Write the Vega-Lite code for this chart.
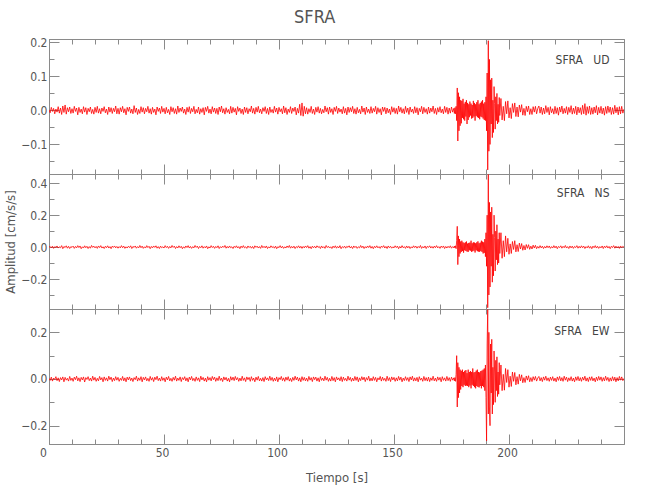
{
"$schema": "https://vega.github.io/schema/vega-lite/v6.json",
"background": "white",
"padding": {"left": 4, "right": 27, "top": 8, "bottom": 20},
"title": {"text": "SFRA", "fontSize": 18, "font": "Liberation Sans Narrow, DejaVu Sans Condensed, sans-serif", "fontWeight": "normal", "color": "#555555", "anchor": "middle", "offset": 9},
"spacing": 0,
"bounds": "flush",
"config": {
  "view": {"stroke": "#8a8a8a", "strokeWidth": 1},
  "axis": {"domainColor": "#8a8a8a", "tickColor": "#8a8a8a", "labelColor": "#555555", "titleColor": "#555555", "labelFont": "Liberation Sans Narrow, DejaVu Sans Condensed, sans-serif", "titleFont": "Liberation Sans Narrow, DejaVu Sans Condensed, sans-serif", "labelFontSize": 12, "titleFontSize": 13, "titleFontWeight": "normal", "grid": false, "domainWidth": 1, "tickWidth": 1, "labelOverlap": false, "labelFlush": false, "labelBound": false}
},
"datasets": {"s": [
{"t":0,"u":0.002,"n":-0.001,"e":0.003},{"t":0.5,"u":-0.007,"n":0.004,"e":-0.006},{"t":1,"u":0.009,"n":-0.005,"e":0.008},{"t":1.5,"u":-0.003,"n":0.006,"e":-0.009},{"t":2,"u":0.006,"n":-0.008,"e":0.004},{"t":2.5,"u":-0.010,"n":0.003,"e":-0.002},{"t":3,"u":0.004,"n":-0.002,"e":0.010},{"t":3.5,"u":-0.005,"n":0.007,"e":-0.007},{"t":4,"u":0.011,"n":-0.006,"e":0.005},{"t":4.5,"u":-0.008,"n":0.002,"e":-0.011},
{"t":5,"u":0.007,"n":-0.004,"e":0.006},{"t":5.5,"u":-0.012,"n":0.009,"e":-0.004},{"t":6,"u":0.013,"n":-0.010,"e":0.009},{"t":6.5,"u":-0.006,"n":0.004,"e":-0.012},{"t":7,"u":0.016,"n":-0.003,"e":0.007},{"t":7.5,"u":-0.011,"n":0.008,"e":-0.005},{"t":8,"u":0.008,"n":-0.007,"e":0.003},{"t":8.5,"u":-0.004,"n":0.005,"e":-0.009},{"t":9,"u":0.010,"n":-0.009,"e":0.011},{"t":9.5,"u":-0.009,"n":0.003,"e":-0.006},
{"t":10,"u":0.005,"n":-0.002,"e":0.004},{"t":10.5,"u":-0.008,"n":0.006,"e":-0.010},{"t":11,"u":0.012,"n":-0.008,"e":0.008},{"t":11.5,"u":-0.003,"n":0.004,"e":-0.003},{"t":12,"u":0.007,"n":-0.005,"e":0.012},{"t":12.5,"u":-0.013,"n":0.009,"e":-0.008},{"t":13,"u":0.009,"n":-0.003,"e":0.005},{"t":13.5,"u":-0.006,"n":0.007,"e":-0.011},{"t":14,"u":0.004,"n":-0.010,"e":0.007},{"t":14.5,"u":-0.010,"n":0.002,"e":-0.004},
{"t":15,"u":0.011,"n":-0.006,"e":0.009},{"t":15.5,"u":-0.005,"n":0.008,"e":-0.013},{"t":16,"u":0.008,"n":-0.004,"e":0.006},{"t":16.5,"u":-0.012,"n":0.005,"e":-0.002},{"t":17,"u":0.006,"n":-0.009,"e":0.010},{"t":17.5,"u":-0.004,"n":0.003,"e":-0.007},{"t":18,"u":0.010,"n":-0.007,"e":0.004},{"t":18.5,"u":-0.009,"n":0.010,"e":-0.009},{"t":19,"u":0.003,"n":-0.002,"e":0.012},{"t":19.5,"u":-0.011,"n":0.006,"e":-0.005},
{"t":20,"u":0.009,"n":-0.005,"e":0.007},{"t":20.5,"u":-0.006,"n":0.004,"e":-0.010},{"t":21,"u":0.012,"n":-0.008,"e":0.003},{"t":21.5,"u":-0.008,"n":0.007,"e":-0.008},{"t":22,"u":0.005,"n":-0.003,"e":0.011},{"t":22.5,"u":-0.010,"n":0.009,"e":-0.004},{"t":23,"u":0.007,"n":-0.006,"e":0.006},{"t":23.5,"u":-0.003,"n":0.002,"e":-0.012},{"t":24,"u":0.011,"n":-0.009,"e":0.009},{"t":24.5,"u":-0.007,"n":0.005,"e":-0.006},
{"t":25,"u":0.004,"n":-0.004,"e":0.005},{"t":25.5,"u":-0.012,"n":0.008,"e":-0.009},{"t":26,"u":0.010,"n":-0.006,"e":0.012},{"t":26.5,"u":-0.005,"n":0.003,"e":-0.003},{"t":27,"u":0.008,"n":-0.010,"e":0.008},{"t":27.5,"u":-0.009,"n":0.006,"e":-0.011},{"t":28,"u":0.006,"n":-0.002,"e":0.004},{"t":28.5,"u":-0.004,"n":0.007,"e":-0.007},{"t":29,"u":0.013,"n":-0.005,"e":0.010},{"t":29.5,"u":-0.010,"n":0.004,"e":-0.005},
{"t":30,"u":0.006,"n":-0.007,"e":0.007},{"t":30.5,"u":-0.011,"n":0.003,"e":-0.010},{"t":31,"u":0.008,"n":-0.005,"e":0.003},{"t":31.5,"u":-0.004,"n":0.009,"e":-0.006},{"t":32,"u":0.012,"n":-0.004,"e":0.011},{"t":32.5,"u":-0.007,"n":0.006,"e":-0.008},{"t":33,"u":0.005,"n":-0.008,"e":0.005},{"t":33.5,"u":-0.013,"n":0.002,"e":-0.012},{"t":34,"u":0.009,"n":-0.006,"e":0.008},{"t":34.5,"u":-0.003,"n":0.005,"e":-0.004},
{"t":35,"u":0.010,"n":-0.003,"e":0.009},{"t":35.5,"u":-0.008,"n":0.008,"e":-0.007},{"t":36,"u":0.004,"n":-0.009,"e":0.004},{"t":36.5,"u":-0.010,"n":0.004,"e":-0.011},{"t":37,"u":0.014,"n":-0.002,"e":0.006},{"t":37.5,"u":-0.006,"n":0.007,"e":-0.003},{"t":38,"u":0.007,"n":-0.007,"e":0.012},{"t":38.5,"u":-0.012,"n":0.003,"e":-0.009},{"t":39,"u":0.003,"n":-0.005,"e":0.005},{"t":39.5,"u":-0.009,"n":0.010,"e":-0.006},
{"t":40,"u":0.011,"n":-0.004,"e":0.010},{"t":40.5,"u":-0.005,"n":0.006,"e":-0.012},{"t":41,"u":0.008,"n":-0.008,"e":0.007},{"t":41.5,"u":-0.010,"n":0.002,"e":-0.004},{"t":42,"u":0.006,"n":-0.006,"e":0.009},{"t":42.5,"u":-0.004,"n":0.009,"e":-0.008},{"t":43,"u":0.012,"n":-0.003,"e":0.003},{"t":43.5,"u":-0.008,"n":0.005,"e":-0.010},{"t":44,"u":0.005,"n":-0.010,"e":0.011},{"t":44.5,"u":-0.011,"n":0.004,"e":-0.005},
{"t":45,"u":0.009,"n":-0.005,"e":0.006},{"t":45.5,"u":-0.006,"n":0.007,"e":-0.011},{"t":46,"u":0.004,"n":-0.002,"e":0.008},{"t":46.5,"u":-0.013,"n":0.008,"e":-0.003},{"t":47,"u":0.010,"n":-0.007,"e":0.012},{"t":47.5,"u":-0.003,"n":0.003,"e":-0.007},{"t":48,"u":0.007,"n":-0.009,"e":0.004},{"t":48.5,"u":-0.009,"n":0.006,"e":-0.009},{"t":49,"u":0.012,"n":-0.004,"e":0.010},{"t":49.5,"u":-0.005,"n":0.002,"e":-0.006},
{"t":50,"u":0.006,"n":-0.006,"e":0.005},{"t":50.5,"u":-0.010,"n":0.009,"e":-0.012},{"t":51,"u":0.009,"n":-0.003,"e":0.008},{"t":51.5,"u":-0.007,"n":0.005,"e":-0.004},{"t":52,"u":0.003,"n":-0.008,"e":0.011},{"t":52.5,"u":-0.012,"n":0.004,"e":-0.008},{"t":53,"u":0.011,"n":-0.005,"e":0.003},{"t":53.5,"u":-0.004,"n":0.010,"e":-0.010},{"t":54,"u":0.008,"n":-0.002,"e":0.007},{"t":54.5,"u":-0.009,"n":0.006,"e":-0.005},
{"t":55,"u":0.005,"n":-0.009,"e":0.012},{"t":55.5,"u":-0.011,"n":0.003,"e":-0.009},{"t":56,"u":0.013,"n":-0.006,"e":0.004},{"t":56.5,"u":-0.006,"n":0.008,"e":-0.006},{"t":57,"u":0.007,"n":-0.004,"e":0.009},{"t":57.5,"u":-0.003,"n":0.005,"e":-0.011},{"t":58,"u":0.010,"n":-0.010,"e":0.006},{"t":58.5,"u":-0.008,"n":0.002,"e":-0.003},{"t":59,"u":0.004,"n":-0.007,"e":0.010},{"t":59.5,"u":-0.012,"n":0.007,"e":-0.008},
{"t":60,"u":0.009,"n":-0.003,"e":0.005},{"t":60.5,"u":-0.005,"n":0.009,"e":-0.012},{"t":61,"u":0.011,"n":-0.006,"e":0.008},{"t":61.5,"u":-0.009,"n":0.004,"e":-0.004},{"t":62,"u":0.006,"n":-0.008,"e":0.011},{"t":62.5,"u":-0.004,"n":0.003,"e":-0.007},{"t":63,"u":0.012,"n":-0.005,"e":0.003},{"t":63.5,"u":-0.010,"n":0.010,"e":-0.010},{"t":64,"u":0.003,"n":-0.002,"e":0.009},{"t":64.5,"u":-0.007,"n":0.006,"e":-0.006},
{"t":65,"u":0.010,"n":-0.009,"e":0.005},{"t":65.5,"u":-0.011,"n":0.004,"e":-0.011},{"t":66,"u":0.005,"n":-0.004,"e":0.012},{"t":66.5,"u":-0.006,"n":0.008,"e":-0.004},{"t":67,"u":0.008,"n":-0.007,"e":0.007},{"t":67.5,"u":-0.013,"n":0.003,"e":-0.009},{"t":68,"u":0.009,"n":-0.005,"e":0.004},{"t":68.5,"u":-0.003,"n":0.007,"e":-0.012},{"t":69,"u":0.012,"n":-0.010,"e":0.010},{"t":69.5,"u":-0.008,"n":0.002,"e":-0.005},
{"t":70,"u":0.004,"n":-0.006,"e":0.006},{"t":70.5,"u":-0.010,"n":0.009,"e":-0.008},{"t":71,"u":0.011,"n":-0.003,"e":0.011},{"t":71.5,"u":-0.005,"n":0.005,"e":-0.003},{"t":72,"u":0.007,"n":-0.008,"e":0.008},{"t":72.5,"u":-0.009,"n":0.004,"e":-0.010},{"t":73,"u":0.006,"n":-0.004,"e":0.005},{"t":73.5,"u":-0.012,"n":0.008,"e":-0.007},{"t":74,"u":0.010,"n":-0.009,"e":0.012},{"t":74.5,"u":-0.004,"n":0.003,"e":-0.006},
{"t":75,"u":0.013,"n":-0.005,"e":0.004},{"t":75.5,"u":-0.007,"n":0.006,"e":-0.011},{"t":76,"u":0.005,"n":-0.002,"e":0.009},{"t":76.5,"u":-0.011,"n":0.010,"e":-0.004},{"t":77,"u":0.008,"n":-0.007,"e":0.007},{"t":77.5,"u":-0.006,"n":0.004,"e":-0.009},{"t":78,"u":0.003,"n":-0.006,"e":0.003},{"t":78.5,"u":-0.010,"n":0.007,"e":-0.012},{"t":79,"u":0.012,"n":-0.004,"e":0.010},{"t":79.5,"u":-0.008,"n":0.002,"e":-0.005},
{"t":80,"u":0.009,"n":-0.009,"e":0.008},{"t":80.5,"u":-0.005,"n":0.005,"e":-0.007},{"t":81,"u":0.006,"n":-0.003,"e":0.011},{"t":81.5,"u":-0.013,"n":0.008,"e":-0.004},{"t":82,"u":0.011,"n":-0.006,"e":0.006},{"t":82.5,"u":-0.003,"n":0.003,"e":-0.010},{"t":83,"u":0.007,"n":-0.010,"e":0.004},{"t":83.5,"u":-0.009,"n":0.006,"e":-0.008},{"t":84,"u":0.004,"n":-0.004,"e":0.012},{"t":84.5,"u":-0.012,"n":0.009,"e":-0.006},
{"t":85,"u":0.010,"n":-0.005,"e":0.005},{"t":85.5,"u":-0.006,"n":0.002,"e":-0.011},{"t":86,"u":0.008,"n":-0.008,"e":0.009},{"t":86.5,"u":-0.010,"n":0.007,"e":-0.003},{"t":87,"u":0.005,"n":-0.003,"e":0.007},{"t":87.5,"u":-0.004,"n":0.005,"e":-0.010},{"t":88,"u":0.013,"n":-0.007,"e":0.010},{"t":88.5,"u":-0.008,"n":0.004,"e":-0.006},{"t":89,"u":0.006,"n":-0.009,"e":0.004},{"t":89.5,"u":-0.011,"n":0.008,"e":-0.012},
{"t":90,"u":0.009,"n":-0.002,"e":0.008},{"t":90.5,"u":-0.005,"n":0.006,"e":-0.005},{"t":91,"u":0.012,"n":-0.006,"e":0.011},{"t":91.5,"u":-0.007,"n":0.003,"e":-0.008},{"t":92,"u":0.004,"n":-0.008,"e":0.003},{"t":92.5,"u":-0.010,"n":0.010,"e":-0.009},{"t":93,"u":0.008,"n":-0.004,"e":0.006},{"t":93.5,"u":-0.003,"n":0.005,"e":-0.011},{"t":94,"u":0.011,"n":-0.005,"e":0.010},{"t":94.5,"u":-0.009,"n":0.007,"e":-0.004},
{"t":95,"u":0.006,"n":-0.009,"e":0.005},{"t":95.5,"u":-0.012,"n":0.002,"e":-0.007},{"t":96,"u":0.010,"n":-0.006,"e":0.012},{"t":96.5,"u":-0.006,"n":0.008,"e":-0.006},{"t":97,"u":0.003,"n":-0.003,"e":0.007},{"t":97.5,"u":-0.008,"n":0.004,"e":-0.010},{"t":98,"u":0.012,"n":-0.007,"e":0.004},{"t":98.5,"u":-0.005,"n":0.006,"e":-0.008},{"t":99,"u":0.007,"n":-0.010,"e":0.009},{"t":99.5,"u":-0.011,"n":0.003,"e":-0.012},
{"t":100,"u":0.009,"n":-0.004,"e":0.006},{"t":100.5,"u":-0.004,"n":0.009,"e":-0.003},{"t":101,"u":0.005,"n":-0.005,"e":0.011},{"t":101.5,"u":-0.010,"n":0.005,"e":-0.007},{"t":102,"u":0.013,"n":-0.008,"e":0.005},{"t":102.5,"u":-0.007,"n":0.002,"e":-0.010},{"t":103,"u":0.008,"n":-0.006,"e":0.008},{"t":103.5,"u":-0.012,"n":0.007,"e":-0.005},{"t":104,"u":0.004,"n":-0.003,"e":0.010},{"t":104.5,"u":-0.006,"n":0.010,"e":-0.009},
{"t":105,"u":0.011,"n":-0.007,"e":0.003},{"t":105.5,"u":-0.009,"n":0.004,"e":-0.011},{"t":106,"u":0.007,"n":-0.005,"e":0.007},{"t":106.5,"u":-0.003,"n":0.006,"e":-0.006},{"t":107,"u":0.010,"n":-0.009,"e":0.012},{"t":107.5,"u":-0.013,"n":0.003,"e":-0.004},{"t":108,"u":0.006,"n":-0.004,"e":0.008},{"t":108.5,"u":-0.008,"n":0.008,"e":-0.009},{"t":109,"u":0.018,"n":-0.006,"e":0.005},{"t":109.5,"u":-0.015,"n":0.005,"e":-0.012},
{"t":110,"u":0.022,"n":-0.008,"e":0.010},{"t":110.5,"u":-0.017,"n":0.004,"e":-0.006},{"t":111,"u":0.012,"n":-0.005,"e":0.007},{"t":111.5,"u":-0.010,"n":0.007,"e":-0.008},{"t":112,"u":0.008,"n":-0.003,"e":0.004},{"t":112.5,"u":-0.011,"n":0.009,"e":-0.010},{"t":113,"u":0.005,"n":-0.007,"e":0.011},{"t":113.5,"u":-0.006,"n":0.003,"e":-0.005},{"t":114,"u":0.012,"n":-0.010,"e":0.006},{"t":114.5,"u":-0.009,"n":0.006,"e":-0.011},
{"t":115,"u":0.004,"n":-0.004,"e":0.009},{"t":115.5,"u":-0.012,"n":0.005,"e":-0.003},{"t":116,"u":0.009,"n":-0.006,"e":0.008},{"t":116.5,"u":-0.005,"n":0.008,"e":-0.009},{"t":117,"u":0.011,"n":-0.002,"e":0.005},{"t":117.5,"u":-0.008,"n":0.004,"e":-0.012},{"t":118,"u":0.006,"n":-0.009,"e":0.010},{"t":118.5,"u":-0.010,"n":0.007,"e":-0.006},{"t":119,"u":0.003,"n":-0.005,"e":0.004},{"t":119.5,"u":-0.007,"n":0.003,"e":-0.008},
{"t":120,"u":0.013,"n":-0.008,"e":0.012},{"t":120.5,"u":-0.004,"n":0.010,"e":-0.005},{"t":121,"u":0.008,"n":-0.003,"e":0.007},{"t":121.5,"u":-0.011,"n":0.005,"e":-0.010},{"t":122,"u":0.010,"n":-0.006,"e":0.003},{"t":122.5,"u":-0.006,"n":0.002,"e":-0.009},{"t":123,"u":0.005,"n":-0.009,"e":0.011},{"t":123.5,"u":-0.012,"n":0.006,"e":-0.007},{"t":124,"u":0.009,"n":-0.004,"e":0.006},{"t":124.5,"u":-0.003,"n":0.008,"e":-0.012},
{"t":125,"u":0.012,"n":-0.007,"e":0.009},{"t":125.5,"u":-0.009,"n":0.004,"e":-0.004},{"t":126,"u":0.007,"n":-0.005,"e":0.005},{"t":126.5,"u":-0.005,"n":0.009,"e":-0.008},{"t":127,"u":0.004,"n":-0.010,"e":0.010},{"t":127.5,"u":-0.010,"n":0.003,"e":-0.011},{"t":128,"u":0.011,"n":-0.004,"e":0.008},{"t":128.5,"u":-0.008,"n":0.006,"e":-0.006},{"t":129,"u":0.006,"n":-0.007,"e":0.003},{"t":129.5,"u":-0.013,"n":0.005,"e":-0.009},
{"t":130,"u":0.010,"n":-0.002,"e":0.012},{"t":130.5,"u":-0.006,"n":0.008,"e":-0.005},{"t":131,"u":0.008,"n":-0.006,"e":0.007},{"t":131.5,"u":-0.004,"n":0.004,"e":-0.010},{"t":132,"u":0.012,"n":-0.009,"e":0.004},{"t":132.5,"u":-0.009,"n":0.007,"e":-0.008},{"t":133,"u":0.005,"n":-0.003,"e":0.011},{"t":133.5,"u":-0.011,"n":0.005,"e":-0.006},{"t":134,"u":0.009,"n":-0.008,"e":0.009},{"t":134.5,"u":-0.007,"n":0.002,"e":-0.012},
{"t":135,"u":0.003,"n":-0.005,"e":0.005},{"t":135.5,"u":-0.010,"n":0.010,"e":-0.007},{"t":136,"u":0.013,"n":-0.004,"e":0.010},{"t":136.5,"u":-0.005,"n":0.006,"e":-0.004},{"t":137,"u":0.007,"n":-0.009,"e":0.008},{"t":137.5,"u":-0.012,"n":0.003,"e":-0.011},{"t":138,"u":0.010,"n":-0.006,"e":0.006},{"t":138.5,"u":-0.006,"n":0.007,"e":-0.005},{"t":139,"u":0.004,"n":-0.003,"e":0.012},{"t":139.5,"u":-0.009,"n":0.009,"e":-0.009},
{"t":140,"u":0.011,"n":-0.007,"e":0.004},{"t":140.5,"u":-0.008,"n":0.004,"e":-0.008},{"t":141,"u":0.006,"n":-0.010,"e":0.010},{"t":141.5,"u":-0.004,"n":0.005,"e":-0.006},{"t":142,"u":0.012,"n":-0.004,"e":0.007},{"t":142.5,"u":-0.011,"n":0.008,"e":-0.012},{"t":143,"u":0.008,"n":-0.005,"e":0.005},{"t":143.5,"u":-0.006,"n":0.003,"e":-0.004},{"t":144,"u":0.005,"n":-0.008,"e":0.011},{"t":144.5,"u":-0.013,"n":0.006,"e":-0.009},
{"t":145,"u":0.010,"n":-0.002,"e":0.008},{"t":145.5,"u":-0.003,"n":0.009,"e":-0.006},{"t":146,"u":0.009,"n":-0.006,"e":0.003},{"t":146.5,"u":-0.010,"n":0.004,"e":-0.010},{"t":147,"u":0.007,"n":-0.009,"e":0.012},{"t":147.5,"u":-0.007,"n":0.007,"e":-0.007},{"t":148,"u":0.004,"n":-0.004,"e":0.006},{"t":148.5,"u":-0.012,"n":0.005,"e":-0.011},{"t":149,"u":0.011,"n":-0.007,"e":0.009},{"t":149.5,"u":-0.005,"n":0.002,"e":-0.004},
{"t":150,"u":0.008,"n":-0.005,"e":0.007},{"t":150.5,"u":-0.009,"n":0.008,"e":-0.010},{"t":151,"u":0.006,"n":-0.003,"e":0.005},{"t":151.5,"u":-0.011,"n":0.006,"e":-0.008},{"t":152,"u":0.013,"n":-0.010,"e":0.011},{"t":152.5,"u":-0.004,"n":0.004,"e":-0.005},{"t":153,"u":0.009,"n":-0.006,"e":0.008},{"t":153.5,"u":-0.008,"n":0.009,"e":-0.012},{"t":154,"u":0.005,"n":-0.004,"e":0.004},{"t":154.5,"u":-0.010,"n":0.003,"e":-0.007},
{"t":155,"u":0.012,"n":-0.008,"e":0.010},{"t":155.5,"u":-0.006,"n":0.007,"e":-0.006},{"t":156,"u":0.007,"n":-0.005,"e":0.006},{"t":156.5,"u":-0.012,"n":0.005,"e":-0.011},{"t":157,"u":0.010,"n":-0.009,"e":0.009},{"t":157.5,"u":-0.005,"n":0.002,"e":-0.004},{"t":158,"u":0.004,"n":-0.006,"e":0.012},{"t":158.5,"u":-0.009,"n":0.008,"e":-0.009},{"t":159,"u":0.011,"n":-0.003,"e":0.005},{"t":159.5,"u":-0.007,"n":0.006,"e":-0.008},
{"t":160,"u":0.008,"n":-0.007,"e":0.007},{"t":160.5,"u":-0.013,"n":0.004,"e":-0.012},{"t":161,"u":0.006,"n":-0.004,"e":0.010},{"t":161.5,"u":-0.004,"n":0.010,"e":-0.005},{"t":162,"u":0.012,"n":-0.008,"e":0.004},{"t":162.5,"u":-0.010,"n":0.003,"e":-0.010},{"t":163,"u":0.009,"n":-0.005,"e":0.011},{"t":163.5,"u":-0.006,"n":0.007,"e":-0.007},{"t":164,"u":0.005,"n":-0.009,"e":0.006},{"t":164.5,"u":-0.011,"n":0.005,"e":-0.009},
{"t":165,"u":0.010,"n":-0.002,"e":0.008},{"t":165.5,"u":-0.008,"n":0.008,"e":-0.011},{"t":166,"u":0.007,"n":-0.006,"e":0.005},{"t":166.5,"u":-0.004,"n":0.004,"e":-0.006},{"t":167,"u":0.013,"n":-0.007,"e":0.012},{"t":167.5,"u":-0.009,"n":0.006,"e":-0.008},{"t":168,"u":0.006,"n":-0.004,"e":0.004},{"t":168.5,"u":-0.012,"n":0.009,"e":-0.010},{"t":169,"u":0.008,"n":-0.005,"e":0.009},{"t":169.5,"u":-0.005,"n":0.003,"e":-0.005},
{"t":170,"u":0.011,"n":-0.008,"e":0.007},{"t":170.5,"u":-0.007,"n":0.006,"e":-0.012},{"t":171,"u":0.004,"n":-0.003,"e":0.010},{"t":171.5,"u":-0.010,"n":0.007,"e":-0.006},{"t":172,"u":0.012,"n":-0.009,"e":0.005},{"t":172.5,"u":-0.006,"n":0.004,"e":-0.009},{"t":173,"u":0.009,"n":-0.006,"e":0.011},{"t":173.5,"u":-0.011,"n":0.005,"e":-0.007},{"t":174,"u":0.007,"n":-0.004,"e":0.006},{"t":174.5,"u":-0.008,"n":0.008,"e":-0.010},
{"t":175,"u":0.010,"n":-0.007,"e":0.008},{"t":175.5,"u":-0.005,"n":0.003,"e":-0.005},
{"t":176,"u":0.006,"n":-0.004,"e":0.005},{"t":176.25,"u":-0.009,"n":0.006,"e":-0.008},{"t":176.5,"u":0.008,"n":-0.005,"e":0.006},{"t":176.75,"u":-0.010,"n":0.008,"e":-0.010},{"t":177,"u":0.012,"n":-0.010,"e":0.020},{"t":177.25,"u":-0.030,"n":0.040,"e":0.100},{"t":177.5,"u":0.066,"n":0.130,"e":-0.120},{"t":177.75,"u":-0.090,"n":-0.110,"e":0.070},
{"t":178,"u":0.052,"n":0.070,"e":-0.080},{"t":178.25,"u":-0.060,"n":-0.060,"e":0.050},{"t":178.5,"u":0.040,"n":0.050,"e":-0.060},{"t":178.75,"u":-0.045,"n":-0.040,"e":0.040},{"t":179,"u":0.030,"n":0.035,"e":-0.045},{"t":179.25,"u":-0.038,"n":-0.030,"e":0.035},{"t":179.5,"u":0.028,"n":0.040,"e":-0.030},{"t":179.75,"u":-0.022,"n":-0.025,"e":0.040},
{"t":180,"u":0.034,"n":0.030,"e":-0.035},{"t":180.25,"u":-0.026,"n":-0.035,"e":0.030},{"t":180.5,"u":0.020,"n":0.025,"e":-0.025},{"t":180.75,"u":-0.030,"n":-0.020,"e":0.035},{"t":181,"u":0.025,"n":0.030,"e":-0.030},{"t":181.25,"u":-0.018,"n":-0.024,"e":0.038},{"t":181.5,"u":0.030,"n":0.035,"e":-0.028},{"t":181.75,"u":-0.040,"n":-0.028,"e":0.025},
{"t":182,"u":0.022,"n":0.022,"e":-0.030},{"t":182.25,"u":-0.028,"n":-0.030,"e":0.040},{"t":182.5,"u":0.018,"n":0.026,"e":-0.035},{"t":182.75,"u":-0.020,"n":-0.020,"e":0.030},{"t":183,"u":0.026,"n":0.028,"e":-0.028},{"t":183.25,"u":-0.015,"n":-0.022,"e":0.034},{"t":183.5,"u":0.020,"n":0.040,"e":-0.040},{"t":183.75,"u":-0.024,"n":-0.030,"e":0.030},
{"t":184,"u":0.016,"n":0.024,"e":-0.025},{"t":184.25,"u":-0.022,"n":-0.026,"e":0.045},{"t":184.5,"u":0.028,"n":0.030,"e":-0.030},{"t":184.75,"u":-0.018,"n":-0.022,"e":0.028},{"t":185,"u":0.022,"n":0.028,"e":-0.035},{"t":185.25,"u":-0.030,"n":-0.034,"e":0.030},{"t":185.5,"u":0.018,"n":0.024,"e":-0.040},{"t":185.75,"u":-0.016,"n":-0.020,"e":0.036},
{"t":186,"u":0.024,"n":0.030,"e":-0.030},{"t":186.25,"u":-0.020,"n":-0.026,"e":0.040},{"t":186.5,"u":0.030,"n":0.036,"e":-0.034},{"t":186.75,"u":-0.022,"n":-0.028,"e":0.030},{"t":187,"u":0.018,"n":0.024,"e":-0.036},{"t":187.25,"u":-0.026,"n":-0.030,"e":0.028},{"t":187.5,"u":0.022,"n":0.028,"e":-0.030},{"t":187.75,"u":-0.018,"n":-0.024,"e":0.034},
{"t":188,"u":0.026,"n":0.040,"e":-0.040},{"t":188.25,"u":-0.020,"n":-0.030,"e":0.036},{"t":188.5,"u":0.030,"n":0.034,"e":-0.030},{"t":188.75,"u":-0.024,"n":-0.040,"e":0.040},{"t":189,"u":0.020,"n":0.030,"e":-0.035},{"t":189.25,"u":-0.028,"n":-0.036,"e":0.045},{"t":189.5,"u":0.024,"n":0.050,"e":-0.050},{"t":189.75,"u":-0.030,"n":-0.060,"e":0.060},
{"t":190,"u":0.040,"n":0.090,"e":-0.080},{"t":190.25,"u":-0.060,"n":-0.120,"e":-0.265},{"t":190.5,"u":0.110,"n":0.200,"e":0.150},{"t":190.75,"u":-0.175,"n":-0.380,"e":0.298},{"t":191,"u":0.205,"n":0.455,"e":-0.150},{"t":191.25,"u":-0.120,"n":-0.300,"e":0.200},{"t":191.5,"u":0.150,"n":0.280,"e":-0.120},{"t":191.75,"u":-0.100,"n":-0.250,"e":-0.200},
{"t":192,"u":0.090,"n":0.220,"e":0.150},{"t":192.25,"u":-0.040,"n":-0.120,"e":-0.060},{"t":192.5,"u":0.095,"n":0.250,"e":0.170},{"t":192.75,"u":-0.080,"n":-0.220,"e":-0.150},{"t":193,"u":0.030,"n":0.080,"e":0.050},{"t":193.25,"u":-0.065,"n":-0.180,"e":-0.110},{"t":193.5,"u":0.070,"n":0.200,"e":0.120},{"t":193.75,"u":0.020,"n":0.060,"e":0.030},
{"t":194,"u":-0.055,"n":-0.150,"e":-0.100},{"t":194.25,"u":0.040,"n":0.100,"e":0.080},{"t":194.5,"u":-0.030,"n":-0.080,"e":-0.050},{"t":194.75,"u":0.050,"n":0.140,"e":0.095},{"t":195,"u":-0.040,"n":-0.110,"e":-0.075},{"t":195.25,"u":0.018,"n":0.050,"e":0.030},{"t":195.5,"u":-0.035,"n":-0.100,"e":-0.065},{"t":195.75,"u":0.038,"n":0.090,"e":0.070},
{"t":196,"u":-0.015,"n":-0.040,"e":-0.025},{"t":196.5,"u":0.035,"n":0.090,"e":0.060},{"t":197,"u":-0.028,"n":-0.070,"e":-0.050},{"t":197.5,"u":0.012,"n":0.040,"e":0.020},{"t":198,"u":-0.030,"n":-0.060,"e":-0.048},{"t":198.5,"u":0.026,"n":0.070,"e":0.045},{"t":199,"u":-0.010,"n":-0.030,"e":-0.015},{"t":199.5,"u":0.028,"n":0.055,"e":0.040},
{"t":200,"u":-0.022,"n":-0.045,"e":-0.035},{"t":200.5,"u":0.008,"n":0.020,"e":0.012},{"t":201,"u":-0.024,"n":-0.040,"e":-0.032},{"t":201.5,"u":0.020,"n":0.035,"e":0.030},{"t":202,"u":-0.006,"n":-0.015,"e":-0.010},{"t":202.5,"u":0.022,"n":0.040,"e":0.028},{"t":203,"u":-0.018,"n":-0.030,"e":-0.025},{"t":203.5,"u":0.010,"n":0.015,"e":0.010},
{"t":204,"u":-0.019,"n":-0.028,"e":-0.022},{"t":204.5,"u":0.016,"n":0.025,"e":0.020},{"t":205,"u":-0.005,"n":-0.012,"e":-0.008},{"t":205.5,"u":0.017,"n":0.022,"e":0.018},{"t":206,"u":-0.014,"n":-0.020,"e":-0.016},{"t":206.5,"u":0.006,"n":0.010,"e":0.006},{"t":207,"u":-0.015,"n":-0.018,"e":-0.015},{"t":207.5,"u":0.012,"n":0.016,"e":0.013},
{"t":208,"u":-0.004,"n":-0.008,"e":-0.005},{"t":208.5,"u":0.013,"n":0.015,"e":0.014},{"t":209,"u":-0.012,"n":-0.014,"e":-0.012},{"t":209.5,"u":0.005,"n":0.006,"e":0.006},{"t":210,"u":-0.012,"n":-0.012,"e":-0.011},{"t":210.5,"u":0.011,"n":0.012,"e":0.010},{"t":211,"u":-0.005,"n":-0.006,"e":-0.005},{"t":211.5,"u":0.012,"n":0.011,"e":0.011},
{"t":212,"u":-0.010,"n":-0.010,"e":-0.009},{"t":212.5,"u":0.006,"n":0.004,"e":0.004},{"t":213,"u":0.013,"n":-0.007,"e":0.011},{"t":213.5,"u":-0.008,"n":0.009,"e":-0.008},{"t":214,"u":0.010,"n":-0.005,"e":0.006},{"t":214.5,"u":-0.012,"n":0.006,"e":-0.011},{"t":215,"u":0.007,"n":-0.009,"e":0.009},{"t":215.5,"u":-0.010,"n":0.004,"e":-0.005},
{"t":216,"u":0.014,"n":-0.006,"e":0.012},{"t":216.5,"u":-0.006,"n":0.008,"e":-0.007},{"t":217,"u":0.009,"n":-0.004,"e":0.005},{"t":217.5,"u":-0.013,"n":0.007,"e":-0.010},{"t":218,"u":0.011,"n":-0.008,"e":0.008},{"t":218.5,"u":-0.007,"n":0.003,"e":-0.006},{"t":219,"u":0.005,"n":-0.006,"e":0.010},{"t":219.5,"u":-0.011,"n":0.009,"e":-0.009},
{"t":220,"u":0.012,"n":-0.005,"e":0.004},{"t":220.5,"u":-0.009,"n":0.006,"e":-0.012},{"t":221,"u":0.008,"n":-0.010,"e":0.009},{"t":221.5,"u":-0.014,"n":0.004,"e":-0.006},{"t":222,"u":0.010,"n":-0.003,"e":0.011},{"t":222.5,"u":-0.005,"n":0.008,"e":-0.008},{"t":223,"u":0.013,"n":-0.007,"e":0.006},{"t":223.5,"u":-0.010,"n":0.005,"e":-0.010},
{"t":224,"u":0.006,"n":-0.004,"e":0.012},{"t":224.5,"u":-0.008,"n":0.010,"e":-0.005},{"t":225,"u":0.011,"n":-0.006,"e":0.008},{"t":225.5,"u":-0.012,"n":0.003,"e":-0.011},{"t":226,"u":0.009,"n":-0.009,"e":0.005},{"t":226.5,"u":-0.006,"n":0.007,"e":-0.007},{"t":227,"u":0.014,"n":-0.005,"e":0.010},{"t":227.5,"u":-0.011,"n":0.006,"e":-0.009},
{"t":228,"u":0.007,"n":-0.008,"e":0.004},{"t":228.5,"u":-0.009,"n":0.004,"e":-0.012},{"t":229,"u":0.012,"n":-0.003,"e":0.009},{"t":229.5,"u":-0.013,"n":0.009,"e":-0.006},{"t":230,"u":0.010,"n":-0.007,"e":0.011},{"t":230.5,"u":-0.007,"n":0.005,"e":-0.008},{"t":231,"u":0.008,"n":-0.006,"e":0.006},{"t":231.5,"u":-0.012,"n":0.008,"e":-0.010},
{"t":232,"u":0.015,"n":-0.004,"e":0.008},{"t":232.5,"u":-0.010,"n":0.006,"e":-0.005},{"t":233,"u":0.020,"n":-0.009,"e":0.012},{"t":233.5,"u":-0.014,"n":0.003,"e":-0.009},{"t":234,"u":0.011,"n":-0.005,"e":0.005},{"t":234.5,"u":-0.009,"n":0.008,"e":-0.011},{"t":235,"u":0.013,"n":-0.007,"e":0.009},{"t":235.5,"u":-0.012,"n":0.004,"e":-0.006},
{"t":236,"u":0.008,"n":-0.010,"e":0.010},{"t":236.5,"u":-0.011,"n":0.006,"e":-0.008},{"t":237,"u":0.010,"n":-0.004,"e":0.004},{"t":237.5,"u":-0.007,"n":0.009,"e":-0.012},{"t":238,"u":0.014,"n":-0.006,"e":0.008},{"t":238.5,"u":-0.013,"n":0.005,"e":-0.007},{"t":239,"u":0.009,"n":-0.008,"e":0.011},{"t":239.5,"u":-0.008,"n":0.003,"e":-0.005},
{"t":240,"u":0.012,"n":-0.005,"e":0.009},{"t":240.5,"u":-0.010,"n":0.007,"e":-0.010},{"t":241,"u":0.007,"n":-0.009,"e":0.006},{"t":241.5,"u":-0.014,"n":0.006,"e":-0.008},{"t":242,"u":0.011,"n":-0.004,"e":0.012},{"t":242.5,"u":-0.009,"n":0.008,"e":-0.006},{"t":243,"u":0.013,"n":-0.006,"e":0.007},{"t":243.5,"u":-0.006,"n":0.004,"e":-0.011},
{"t":244,"u":0.010,"n":-0.010,"e":0.005},{"t":244.5,"u":-0.012,"n":0.005,"e":-0.009},{"t":245,"u":0.008,"n":-0.003,"e":0.010},{"t":245.5,"u":-0.011,"n":0.009,"e":-0.007},{"t":246,"u":0.015,"n":-0.007,"e":0.008},{"t":246.5,"u":-0.007,"n":0.006,"e":-0.012},{"t":247,"u":0.009,"n":-0.005,"e":0.006},{"t":247.5,"u":-0.013,"n":0.004,"e":-0.008},
{"t":248,"u":0.011,"n":-0.008,"e":0.011},{"t":248.5,"u":-0.010,"n":0.007,"e":-0.005},{"t":249,"u":0.012,"n":-0.004,"e":0.009},{"t":249.5,"u":-0.008,"n":0.005,"e":-0.007},{"t":250,"u":0.004,"n":-0.002,"e":0.003}
]},
"vconcat": [
{
 "width": 575, "height": 135,
 "layer": [
  {"data": {"name": "s"},
   "mark": {"type": "line", "color": "#ff0000", "strokeWidth": 0.8, "strokeJoin": "round", "clip": true},
   "encoding": {
    "x": {"field": "t", "type": "quantitative", "scale": {"domain": [0, 250], "nice": false, "zero": false},
          "axis": {"orient": "bottom", "values": [0,10,20,30,40,50,60,70,80,90,100,110,120,130,140,150,160,170,180,190,200,210,220,230,240], "labels": false, "title": null,
                   "tickSize": {"condition": {"test": "datum.value % 50 === 0", "value": -10}, "value": -5}}},
    "y": {"field": "u", "type": "quantitative", "scale": {"domain": [-0.187, 0.21], "nice": false, "zero": false},
          "axis": {"orient": "left", "values": [-0.15,-0.1,-0.05,0,0.05,0.1,0.15,0.2], "format": ".1f", "title": null, "labelPadding": 12,
                   "labelExpr": "abs(datum.value*10 - round(datum.value*10)) < 0.001 ? datum.label : ''",
                   "tickSize": {"condition": {"test": "abs(datum.value*10 - round(datum.value*10)) < 0.001", "value": -10}, "value": -5}}}
   }},
  {"data": {"values": [{"lab": "SFRA\u00a0\u00a0\u00a0UD"}]},
   "mark": {"type": "text", "align": "right", "baseline": "middle", "fontSize": 12, "color": "#444444", "font": "Liberation Sans Narrow, DejaVu Sans Condensed, sans-serif"},
   "encoding": {
    "x": {"datum": 243.7, "type": "quantitative", "scale": {"domain": [0, 250], "nice": false, "zero": false},
          "axis": {"orient": "top", "values": [0,10,20,30,40,50,60,70,80,90,100,110,120,130,140,150,160,170,180,190,200,210,220,230,240], "labels": false, "title": null,
                   "tickSize": {"condition": {"test": "datum.value % 50 === 0", "value": -10}, "value": -5}}},
    "y": {"datum": 0.147, "type": "quantitative", "scale": {"domain": [-0.187, 0.21], "nice": false, "zero": false},
          "axis": {"orient": "right", "values": [-0.15,-0.1,-0.05,0,0.05,0.1,0.15,0.2], "labels": false, "title": null,
                   "tickSize": {"condition": {"test": "abs(datum.value*10 - round(datum.value*10)) < 0.001", "value": -10}, "value": -5}}},
    "text": {"field": "lab"}
   }}
 ],
 "resolve": {"axis": {"x": "independent", "y": "independent"}}
},
{
 "width": 575, "height": 135,
 "layer": [
  {"data": {"name": "s"},
   "mark": {"type": "line", "color": "#ff0000", "strokeWidth": 0.8, "strokeJoin": "round", "clip": true},
   "encoding": {
    "x": {"field": "t", "type": "quantitative", "scale": {"domain": [0, 250], "nice": false, "zero": false},
          "axis": {"orient": "bottom", "values": [0,10,20,30,40,50,60,70,80,90,100,110,120,130,140,150,160,170,180,190,200,210,220,230,240], "labels": false, "title": null,
                   "tickSize": {"condition": {"test": "datum.value % 50 === 0", "value": -10}, "value": -5}}},
    "y": {"field": "n", "type": "quantitative", "scale": {"domain": [-0.388, 0.458], "nice": false, "zero": false},
          "axis": {"orient": "left", "values": [-0.3,-0.2,-0.1,0,0.1,0.2,0.3,0.4], "format": ".1f", "title": "Amplitud [cm/s/s]", "titlePadding": 3, "labelPadding": 12,
                   "labelExpr": "abs(datum.value*5 - round(datum.value*5)) < 0.001 ? datum.label : ''",
                   "tickSize": {"condition": {"test": "abs(datum.value*5 - round(datum.value*5)) < 0.001", "value": -10}, "value": -5}}}
   }},
  {"data": {"values": [{"lab": "SFRA\u00a0\u00a0\u00a0NS"}]},
   "mark": {"type": "text", "align": "right", "baseline": "middle", "fontSize": 12, "color": "#444444", "font": "Liberation Sans Narrow, DejaVu Sans Condensed, sans-serif"},
   "encoding": {
    "x": {"datum": 243.7, "type": "quantitative", "scale": {"domain": [0, 250], "nice": false, "zero": false},
          "axis": {"orient": "top", "values": [0,10,20,30,40,50,60,70,80,90,100,110,120,130,140,150,160,170,180,190,200,210,220,230,240], "labels": false, "title": null,
                   "tickSize": {"condition": {"test": "datum.value % 50 === 0", "value": -10}, "value": -5}}},
    "y": {"datum": 0.336, "type": "quantitative", "scale": {"domain": [-0.388, 0.458], "nice": false, "zero": false},
          "axis": {"orient": "right", "values": [-0.3,-0.2,-0.1,0,0.1,0.2,0.3,0.4], "labels": false, "title": null,
                   "tickSize": {"condition": {"test": "abs(datum.value*5 - round(datum.value*5)) < 0.001", "value": -10}, "value": -5}}},
    "text": {"field": "lab"}
   }}
 ],
 "resolve": {"axis": {"x": "independent", "y": "independent"}}
},
{
 "width": 575, "height": 135,
 "layer": [
  {"data": {"name": "s"},
   "mark": {"type": "line", "color": "#ff0000", "strokeWidth": 0.8, "strokeJoin": "round", "clip": true},
   "encoding": {
    "x": {"field": "t", "type": "quantitative", "scale": {"domain": [0, 250], "nice": false, "zero": false},
          "axis": {"orient": "bottom", "values": [0,10,20,30,40,50,60,70,80,90,100,110,120,130,140,150,160,170,180,190,200,210,220,230,240], "title": "Tiempo [s]", "titlePadding": 8, "labelPadding": 13,
                   "labelExpr": "datum.value % 50 === 0 ? datum.label : ''",
                   "labelOffset": {"condition": {"test": "datum.value === 0", "value": -6}, "value": -2},
                   "tickSize": {"condition": {"test": "datum.value % 50 === 0", "value": -10}, "value": -5}}},
    "y": {"field": "e", "type": "quantitative", "scale": {"domain": [-0.2786, 0.3], "nice": false, "zero": false},
          "axis": {"orient": "left", "values": [-0.2,-0.1,0,0.1,0.2,0.3], "format": ".1f", "title": null, "labelPadding": 12,
                   "labelExpr": "abs(datum.value*5 - round(datum.value*5)) < 0.001 ? datum.label : ''",
                   "tickSize": {"condition": {"test": "abs(datum.value*5 - round(datum.value*5)) < 0.001", "value": -10}, "value": -5}}}
   }},
  {"data": {"values": [{"lab": "SFRA\u00a0\u00a0\u00a0EW"}]},
   "mark": {"type": "text", "align": "right", "baseline": "middle", "fontSize": 12, "color": "#444444", "font": "Liberation Sans Narrow, DejaVu Sans Condensed, sans-serif"},
   "encoding": {
    "x": {"datum": 243.7, "type": "quantitative", "scale": {"domain": [0, 250], "nice": false, "zero": false},
          "axis": {"orient": "top", "values": [0,10,20,30,40,50,60,70,80,90,100,110,120,130,140,150,160,170,180,190,200,210,220,230,240], "labels": false, "title": null,
                   "tickSize": {"condition": {"test": "datum.value % 50 === 0", "value": -10}, "value": -5}}},
    "y": {"datum": 0.207, "type": "quantitative", "scale": {"domain": [-0.2786, 0.3], "nice": false, "zero": false},
          "axis": {"orient": "right", "values": [-0.2,-0.1,0,0.1,0.2,0.3], "labels": false, "title": null,
                   "tickSize": {"condition": {"test": "abs(datum.value*5 - round(datum.value*5)) < 0.001", "value": -10}, "value": -5}}},
    "text": {"field": "lab"}
   }}
 ],
 "resolve": {"axis": {"x": "independent", "y": "independent"}}
}
]
}
